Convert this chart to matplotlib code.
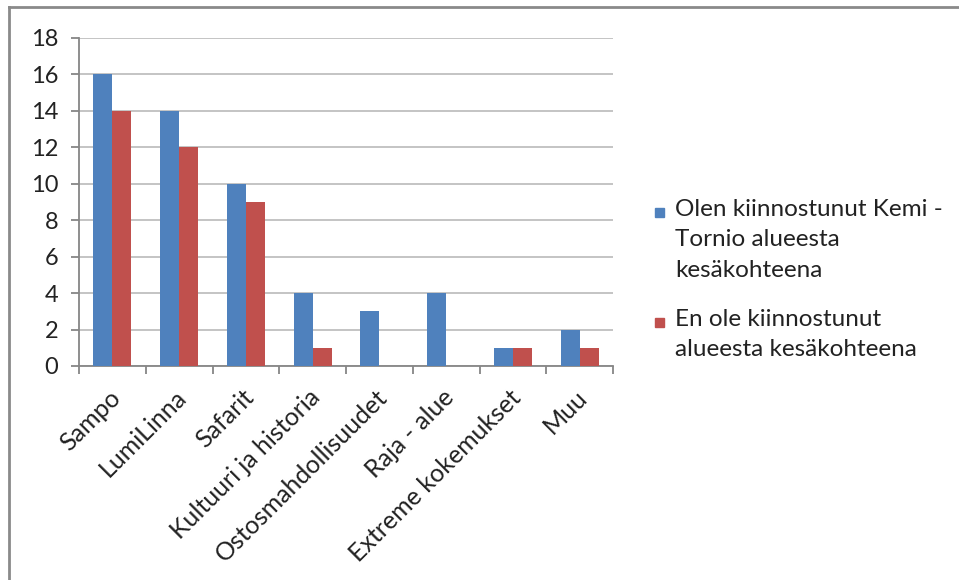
import numpy as np
import matplotlib.pyplot as plt
import matplotlib.transforms as mtransforms
from matplotlib.patches import Rectangle
from matplotlib.lines import Line2D

# Kiinnostavat kohteet Kemi-Tornio alueella
categories = ['Sampo', 'LumiLinna', 'Safarit', 'Kultuuri ja historia',
              'Ostosmahdollisuudet', 'Raja - alue', 'Extreme kokemukset', 'Muu']
interested = [16, 14, 10, 4, 3, 4, 1, 2]
not_interested = [14, 12, 9, 1, 0, 0, 1, 1]
series_names = ['Olen kiinnostunut Kemi -\nTornio alueesta\nkesäkohteena',
                'En ole kiinnostunut\nalueesta kesäkohteena']
colors = ['#4F81BD', '#C0504D']

plt.rcParams['font.family'] = ['Lato', 'DejaVu Sans']

fig = plt.figure(figsize=(9.59, 5.8), dpi=100)
fig.patch.set_facecolor('white')

# chart frame (only top and left edges are visible in the picture)
fig.add_artist(Line2D([9/959, 9/959], [0, 1 - 7/580], transform=fig.transFigure,
                      color='#8a8a8a', lw=2))
fig.add_artist(Line2D([9/959, 1], [1 - 7/580, 1 - 7/580], transform=fig.transFigure,
                      color='#8a8a8a', lw=2))

ax = fig.add_axes([79/959, 1 - 366/580, 534/959, 328/580])

x = np.arange(len(categories))
w = 1 / 3.5
ax.bar(x - w/2, interested, w, color=colors[0], zorder=3)
ax.bar(x + w/2, not_interested, w, color=colors[1], zorder=3)

ax.set_xlim(-0.5, len(categories) - 0.5)
ax.set_ylim(0, 18)
ax.set_yticks(range(0, 19, 2))
ax.yaxis.grid(True, color='#bfbfbf', lw=1.3, zorder=0)
ax.set_axisbelow(True)

for s in ['top', 'right']:
    ax.spines[s].set_visible(False)
for s in ['left', 'bottom']:
    ax.spines[s].set_color('#868686')
    ax.spines[s].set_linewidth(1.3)

ax.tick_params(axis='y', length=6, width=1.3, color='#868686', pad=9, labelsize=17,
               labelcolor='#222222')
ax.set_xticks(np.arange(len(categories) + 1) - 0.5, minor=False)
ax.set_xticklabels([])
ax.tick_params(axis='x', which='major', length=6, width=1.3, color='#868686')
ax.set_xticks(x, minor=True)
ax.set_xticklabels(categories, minor=True, rotation=45, ha='right', va='center',
                   rotation_mode='anchor', fontsize=18, color='#222222')
ax.tick_params(axis='x', which='minor', length=0, pad=20)
shift = mtransforms.ScaledTranslation(4/100, 0, fig.dpi_scale_trans)
for lab in ax.get_xticklabels(minor=True):
    lab.set_transform(lab.get_transform() + shift)

# legend drawn by hand so the squares line up with the first text line
leg_y = [1 - 212/580, 1 - 322/580]
for name, c, yy in zip(series_names, colors, leg_y):
    fig.add_artist(Rectangle((655/959, yy - 4.5/580), 9/959, 9/580,
                             transform=fig.transFigure, color=c))
    fig.text(675/959, yy + 13/580, name, fontsize=17.5, color='#222222',
             va='top', ha='left', linespacing=1.55)

fig.savefig('out.png', dpi=100)
